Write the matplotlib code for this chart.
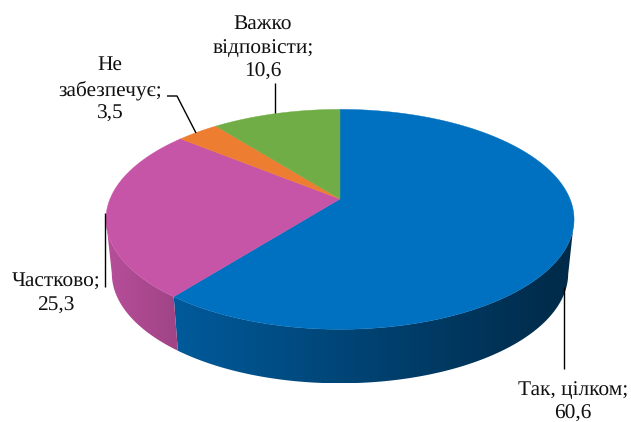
import numpy as np
import matplotlib
matplotlib.use("Agg")
import matplotlib.pyplot as plt
from matplotlib.patches import Polygon

plt.rcParams['font.family'] = ['Liberation Serif', 'DejaVu Serif']
plt.rcParams['text.hinting'] = 'no_hinting'

categories = ["Так, цілком", "Частково", "Не\nзабезпечує", "Важко\nвідповісти"]
values = [60.6, 25.3, 3.5, 10.6]
colors = ["#0070C0", "#C755A7", "#ED7D31", "#70AD47"]

# projection of the tilted pie (pixel space)
CX, CY, A, B, K, DEPTH, TAPER = 340.0, 199.0, 230.0, 106.2, 0.185, 54.0, 0.975

def project(theta):
    u, v = np.sin(theta), np.cos(theta)
    w = 1 + K * v
    return CX + A * u / w, CY - B * v / w

def shade(x):
    return np.interp(x, [106, 178, 340, 574], [0.92, 0.80, 0.62, 0.37])

fig = plt.figure(figsize=(6.31, 4.22), dpi=100)
ax = fig.add_axes([0, 0, 1, 1])

fracs = np.cumsum([0] + values) / sum(values) * 2 * np.pi

# side wall: gradient image clipped to each slice's wall outline
for i, col in enumerate(colors):
    a0, a1 = fracs[i], fracs[i + 1]
    ts = np.linspace(a0, a1, 400)
    ts = ts[np.cos(ts) < -0.185]
    if len(ts) < 2:
        continue
    xs, ys = project(ts)
    xb = CX + (xs - CX) * TAPER
    yb = ys + DEPTH
    pts = np.column_stack([np.r_[xs, xb[::-1]], np.r_[ys, yb[::-1]]])
    x0, x1 = pts[:, 0].min(), pts[:, 0].max()
    y0, y1 = pts[:, 1].min(), pts[:, 1].max()
    grid = np.linspace(x0, x1, 256)
    rgb = np.array(matplotlib.colors.to_rgb(col))
    img = (rgb[None, :] * shade(grid)[:, None])[None, :, :]
    im = ax.imshow(img, extent=(x0, x1, y1, y0), aspect="auto", zorder=2,
                   interpolation="bilinear")
    poly = Polygon(pts, closed=True, transform=ax.transData, facecolor="none", edgecolor="none")
    ax.add_patch(poly)
    im.set_clip_path(poly)

# top face
for i, col in enumerate(colors):
    ts = np.linspace(fracs[i], fracs[i + 1], 200)
    xs, ys = project(ts)
    pts = np.column_stack([np.r_[CX, xs], np.r_[CY, ys]])
    ax.add_patch(Polygon(pts, closed=True, facecolor=col, edgecolor=col, lw=0.3, zorder=3))

ax.set_xlim(0, 631)
ax.set_ylim(422, 0)
ax.axis("off")

# leader lines
lk = dict(color="black", lw=1.0, zorder=4, solid_capstyle="butt")
ax.plot([564, 564], [287, 369], **lk)
ax.plot([105, 105], [213, 287], **lk)
ax.plot([167, 177, 196], [96, 96, 133], **lk)
ax.plot([275, 275], [83, 113], **lk)

# labels
tk = dict(fontsize=15.4, ha="center", va="center", color="#111111", zorder=5)
ax.text(573, 390, "Так, цілком;", **tk)
ax.text(573, 414, f"{values[0]}".replace(".", ","), **tk)
ax.text(56, 281, "Частково;", **tk)
ax.text(56, 306, f"{values[1]}".replace(".", ","), **tk)
ax.text(110, 65, "Не", **tk)
ax.text(110, 90, "забезпечує;", **tk)
ax.text(110, 114, f"{values[2]}".replace(".", ","), **tk)
ax.text(263, 24, "Важко", **tk)
ax.text(263, 48, "відповісти;", **tk)
ax.text(263, 72, f"{values[3]}".replace(".", ","), **tk)

fig.savefig("out.png", dpi=100)
